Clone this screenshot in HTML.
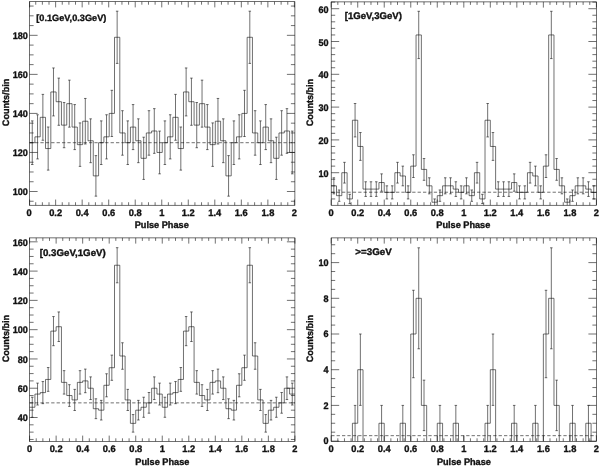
<!DOCTYPE html>
<html lang="en"><head><meta charset="utf-8"><title>Pulse phase histograms</title>
<style>
html,body{margin:0;padding:0;background:#fff;}
body{width:600px;height:467px;overflow:hidden;}
svg{display:block;}
.txt text{font-family:"Liberation Sans",Arial,Helvetica,sans-serif;font-weight:bold;font-size:9.5px;text-rendering:geometricPrecision;fill:#111;stroke:#111;stroke-width:0.35px;}
.txt text.ttl{font-size:9.6px;}
.txt text.t1{font-size:9.2px;}
.txt text.ax{font-size:9.4px;}
.txt text.yl{font-size:9.5px;}
</style></head><body>
<svg width="600" height="467" viewBox="0 0 600 467">
<rect x="0" y="0" width="600" height="467" fill="#fff"/>
<g class="panel" stroke="#111" stroke-width="0.6" fill="none">
<rect x="29.6" y="1.7" width="265.3" height="203.55"/>
<line x1="29.6" y1="205.25" x2="29.6" y2="199.55"/>
<line x1="29.6" y1="1.7" x2="29.6" y2="7.4"/>
<line x1="35.73" y1="205.25" x2="35.73" y2="202.25"/>
<line x1="35.73" y1="1.7" x2="35.73" y2="4.7"/>
<line x1="42.37" y1="205.25" x2="42.37" y2="202.25"/>
<line x1="42.37" y1="1.7" x2="42.37" y2="4.7"/>
<line x1="49" y1="205.25" x2="49" y2="202.25"/>
<line x1="49" y1="1.7" x2="49" y2="4.7"/>
<line x1="55.63" y1="205.25" x2="55.63" y2="199.55"/>
<line x1="55.63" y1="1.7" x2="55.63" y2="7.4"/>
<line x1="62.26" y1="205.25" x2="62.26" y2="202.25"/>
<line x1="62.26" y1="1.7" x2="62.26" y2="4.7"/>
<line x1="68.9" y1="205.25" x2="68.9" y2="202.25"/>
<line x1="68.9" y1="1.7" x2="68.9" y2="4.7"/>
<line x1="75.53" y1="205.25" x2="75.53" y2="202.25"/>
<line x1="75.53" y1="1.7" x2="75.53" y2="4.7"/>
<line x1="82.16" y1="205.25" x2="82.16" y2="199.55"/>
<line x1="82.16" y1="1.7" x2="82.16" y2="7.4"/>
<line x1="88.79" y1="205.25" x2="88.79" y2="202.25"/>
<line x1="88.79" y1="1.7" x2="88.79" y2="4.7"/>
<line x1="95.42" y1="205.25" x2="95.42" y2="202.25"/>
<line x1="95.42" y1="1.7" x2="95.42" y2="4.7"/>
<line x1="102.06" y1="205.25" x2="102.06" y2="202.25"/>
<line x1="102.06" y1="1.7" x2="102.06" y2="4.7"/>
<line x1="108.69" y1="205.25" x2="108.69" y2="199.55"/>
<line x1="108.69" y1="1.7" x2="108.69" y2="7.4"/>
<line x1="115.32" y1="205.25" x2="115.32" y2="202.25"/>
<line x1="115.32" y1="1.7" x2="115.32" y2="4.7"/>
<line x1="121.95" y1="205.25" x2="121.95" y2="202.25"/>
<line x1="121.95" y1="1.7" x2="121.95" y2="4.7"/>
<line x1="128.59" y1="205.25" x2="128.59" y2="202.25"/>
<line x1="128.59" y1="1.7" x2="128.59" y2="4.7"/>
<line x1="135.22" y1="205.25" x2="135.22" y2="199.55"/>
<line x1="135.22" y1="1.7" x2="135.22" y2="7.4"/>
<line x1="141.85" y1="205.25" x2="141.85" y2="202.25"/>
<line x1="141.85" y1="1.7" x2="141.85" y2="4.7"/>
<line x1="148.48" y1="205.25" x2="148.48" y2="202.25"/>
<line x1="148.48" y1="1.7" x2="148.48" y2="4.7"/>
<line x1="155.12" y1="205.25" x2="155.12" y2="202.25"/>
<line x1="155.12" y1="1.7" x2="155.12" y2="4.7"/>
<line x1="161.75" y1="205.25" x2="161.75" y2="199.55"/>
<line x1="161.75" y1="1.7" x2="161.75" y2="7.4"/>
<line x1="168.38" y1="205.25" x2="168.38" y2="202.25"/>
<line x1="168.38" y1="1.7" x2="168.38" y2="4.7"/>
<line x1="175.01" y1="205.25" x2="175.01" y2="202.25"/>
<line x1="175.01" y1="1.7" x2="175.01" y2="4.7"/>
<line x1="181.65" y1="205.25" x2="181.65" y2="202.25"/>
<line x1="181.65" y1="1.7" x2="181.65" y2="4.7"/>
<line x1="188.28" y1="205.25" x2="188.28" y2="199.55"/>
<line x1="188.28" y1="1.7" x2="188.28" y2="7.4"/>
<line x1="194.91" y1="205.25" x2="194.91" y2="202.25"/>
<line x1="194.91" y1="1.7" x2="194.91" y2="4.7"/>
<line x1="201.54" y1="205.25" x2="201.54" y2="202.25"/>
<line x1="201.54" y1="1.7" x2="201.54" y2="4.7"/>
<line x1="208.18" y1="205.25" x2="208.18" y2="202.25"/>
<line x1="208.18" y1="1.7" x2="208.18" y2="4.7"/>
<line x1="214.81" y1="205.25" x2="214.81" y2="199.55"/>
<line x1="214.81" y1="1.7" x2="214.81" y2="7.4"/>
<line x1="221.44" y1="205.25" x2="221.44" y2="202.25"/>
<line x1="221.44" y1="1.7" x2="221.44" y2="4.7"/>
<line x1="228.07" y1="205.25" x2="228.07" y2="202.25"/>
<line x1="228.07" y1="1.7" x2="228.07" y2="4.7"/>
<line x1="234.71" y1="205.25" x2="234.71" y2="202.25"/>
<line x1="234.71" y1="1.7" x2="234.71" y2="4.7"/>
<line x1="241.34" y1="205.25" x2="241.34" y2="199.55"/>
<line x1="241.34" y1="1.7" x2="241.34" y2="7.4"/>
<line x1="247.97" y1="205.25" x2="247.97" y2="202.25"/>
<line x1="247.97" y1="1.7" x2="247.97" y2="4.7"/>
<line x1="254.6" y1="205.25" x2="254.6" y2="202.25"/>
<line x1="254.6" y1="1.7" x2="254.6" y2="4.7"/>
<line x1="261.24" y1="205.25" x2="261.24" y2="202.25"/>
<line x1="261.24" y1="1.7" x2="261.24" y2="4.7"/>
<line x1="267.87" y1="205.25" x2="267.87" y2="199.55"/>
<line x1="267.87" y1="1.7" x2="267.87" y2="7.4"/>
<line x1="274.5" y1="205.25" x2="274.5" y2="202.25"/>
<line x1="274.5" y1="1.7" x2="274.5" y2="4.7"/>
<line x1="281.13" y1="205.25" x2="281.13" y2="202.25"/>
<line x1="281.13" y1="1.7" x2="281.13" y2="4.7"/>
<line x1="287.77" y1="205.25" x2="287.77" y2="202.25"/>
<line x1="287.77" y1="1.7" x2="287.77" y2="4.7"/>
<line x1="294.4" y1="205.25" x2="294.4" y2="199.55"/>
<line x1="294.4" y1="1.7" x2="294.4" y2="7.4"/>
<line x1="29.6" y1="201.26" x2="33.6" y2="201.26"/>
<line x1="294.9" y1="201.26" x2="290.9" y2="201.26"/>
<line x1="29.6" y1="191.5" x2="37.6" y2="191.5"/>
<line x1="294.9" y1="191.5" x2="286.9" y2="191.5"/>
<line x1="29.6" y1="181.74" x2="33.6" y2="181.74"/>
<line x1="294.9" y1="181.74" x2="290.9" y2="181.74"/>
<line x1="29.6" y1="171.98" x2="33.6" y2="171.98"/>
<line x1="294.9" y1="171.98" x2="290.9" y2="171.98"/>
<line x1="29.6" y1="162.22" x2="33.6" y2="162.22"/>
<line x1="294.9" y1="162.22" x2="290.9" y2="162.22"/>
<line x1="29.6" y1="152.46" x2="37.6" y2="152.46"/>
<line x1="294.9" y1="152.46" x2="286.9" y2="152.46"/>
<line x1="29.6" y1="142.7" x2="33.6" y2="142.7"/>
<line x1="294.9" y1="142.7" x2="290.9" y2="142.7"/>
<line x1="29.6" y1="132.94" x2="33.6" y2="132.94"/>
<line x1="294.9" y1="132.94" x2="290.9" y2="132.94"/>
<line x1="29.6" y1="123.18" x2="33.6" y2="123.18"/>
<line x1="294.9" y1="123.18" x2="290.9" y2="123.18"/>
<line x1="29.6" y1="113.42" x2="37.6" y2="113.42"/>
<line x1="294.9" y1="113.42" x2="286.9" y2="113.42"/>
<line x1="29.6" y1="103.66" x2="33.6" y2="103.66"/>
<line x1="294.9" y1="103.66" x2="290.9" y2="103.66"/>
<line x1="29.6" y1="93.9" x2="33.6" y2="93.9"/>
<line x1="294.9" y1="93.9" x2="290.9" y2="93.9"/>
<line x1="29.6" y1="84.14" x2="33.6" y2="84.14"/>
<line x1="294.9" y1="84.14" x2="290.9" y2="84.14"/>
<line x1="29.6" y1="74.38" x2="37.6" y2="74.38"/>
<line x1="294.9" y1="74.38" x2="286.9" y2="74.38"/>
<line x1="29.6" y1="64.62" x2="33.6" y2="64.62"/>
<line x1="294.9" y1="64.62" x2="290.9" y2="64.62"/>
<line x1="29.6" y1="54.86" x2="33.6" y2="54.86"/>
<line x1="294.9" y1="54.86" x2="290.9" y2="54.86"/>
<line x1="29.6" y1="45.1" x2="33.6" y2="45.1"/>
<line x1="294.9" y1="45.1" x2="290.9" y2="45.1"/>
<line x1="29.6" y1="35.34" x2="37.6" y2="35.34"/>
<line x1="294.9" y1="35.34" x2="286.9" y2="35.34"/>
<line x1="29.6" y1="25.58" x2="33.6" y2="25.58"/>
<line x1="294.9" y1="25.58" x2="290.9" y2="25.58"/>
<line x1="29.6" y1="15.82" x2="33.6" y2="15.82"/>
<line x1="294.9" y1="15.82" x2="290.9" y2="15.82"/>
<line x1="29.6" y1="6.06" x2="33.6" y2="6.06"/>
<line x1="294.9" y1="6.06" x2="290.9" y2="6.06"/>
<line x1="29.6" y1="142.7" x2="294.9" y2="142.7" stroke-dasharray="3.3 2.1"/>
<path d="M29.6 142.7H34.91V136.84H40.21V117.32H45.52V148.56H50.82V91.95H56.13V101.71H61.44V125.13H66.74V103.66H72.05V127.08H77.35V144.65H82.66V121.23H87.97V140.75H93.27V175.88H98.58V142.7H103.88V136.84H109.19V113.42H114.5V37.29H119.8V132.94H125.11V142.7H130.41V127.08H135.72V140.75H141.03V158.32H146.33V132.94H151.64V130.99H156.94V152.46H162.25V142.7H167.56V136.84H172.86V117.32H178.17V148.56H183.47V91.95H188.78V101.71H194.09V125.13H199.39V103.66H204.7V127.08H210V144.65H215.31V121.23H220.62V140.75H225.92V175.88H231.23V142.7H236.53V136.84H241.84V113.42H247.15V37.29H252.45V132.94H257.76V142.7H263.06V127.08H268.37V140.75H273.68V158.32H278.98V132.94H284.29V130.99H289.59V152.46H294.9"/>
<path d="M32.25 120.88V164.52M31 120.88h2.5M31 164.52h2.5M37.56 114.76V158.93M36.31 114.76h2.5M36.31 158.93h2.5M42.86 94.39V140.25M41.61 94.39h2.5M41.61 140.25h2.5M48.17 127V170.12M46.92 127h2.5M46.92 170.12h2.5M53.48 67.96V115.93M52.23 67.96h2.5M52.23 115.93h2.5M58.78 78.12V125.29M57.53 78.12h2.5M57.53 125.29h2.5M64.09 102.54V147.73M62.84 102.54h2.5M62.84 147.73h2.5M69.39 80.15V127.17M68.14 80.15h2.5M68.14 127.17h2.5M74.7 104.57V149.6M73.45 104.57h2.5M73.45 149.6h2.5M80.01 122.92V166.39M78.76 122.92h2.5M78.76 166.39h2.5M85.31 98.46V143.99M84.06 98.46h2.5M84.06 143.99h2.5M90.62 118.84V162.66M89.37 118.84h2.5M89.37 162.66h2.5M95.92 155.6V196.17M94.67 155.6h2.5M94.67 196.17h2.5M101.23 120.88V164.52M99.98 120.88h2.5M99.98 164.52h2.5M106.54 114.76V158.93M105.29 114.76h2.5M105.29 158.93h2.5M111.84 90.32V136.52M110.59 90.32h2.5M110.59 136.52h2.5M117.15 11.18V63.41M115.9 11.18h2.5M115.9 63.41h2.5M122.45 110.68V155.2M121.2 110.68h2.5M121.2 155.2h2.5M127.76 120.88V164.52M126.51 120.88h2.5M126.51 164.52h2.5M133.07 104.57V149.6M131.82 104.57h2.5M131.82 149.6h2.5M138.37 118.84V162.66M137.12 118.84h2.5M137.12 162.66h2.5M143.68 137.2V179.43M142.43 137.2h2.5M142.43 179.43h2.5M148.98 110.68V155.2M147.73 110.68h2.5M147.73 155.2h2.5M154.29 108.65V153.33M153.04 108.65h2.5M153.04 153.33h2.5M159.6 131.08V173.84M158.35 131.08h2.5M158.35 173.84h2.5M164.9 120.88V164.52M163.65 120.88h2.5M163.65 164.52h2.5M170.21 114.76V158.93M168.96 114.76h2.5M168.96 158.93h2.5M175.51 94.39V140.25M174.26 94.39h2.5M174.26 140.25h2.5M180.82 127V170.12M179.57 127h2.5M179.57 170.12h2.5M186.13 67.96V115.93M184.88 67.96h2.5M184.88 115.93h2.5M191.43 78.12V125.29M190.18 78.12h2.5M190.18 125.29h2.5M196.74 102.54V147.73M195.49 102.54h2.5M195.49 147.73h2.5M202.04 80.15V127.17M200.79 80.15h2.5M200.79 127.17h2.5M207.35 104.57V149.6M206.1 104.57h2.5M206.1 149.6h2.5M212.66 122.92V166.39M211.41 122.92h2.5M211.41 166.39h2.5M217.96 98.46V143.99M216.71 98.46h2.5M216.71 143.99h2.5M223.27 118.84V162.66M222.02 118.84h2.5M222.02 162.66h2.5M228.57 155.6V196.17M227.32 155.6h2.5M227.32 196.17h2.5M233.88 120.88V164.52M232.63 120.88h2.5M232.63 164.52h2.5M239.19 114.76V158.93M237.94 114.76h2.5M237.94 158.93h2.5M244.49 90.32V136.52M243.24 90.32h2.5M243.24 136.52h2.5M249.8 11.18V63.41M248.55 11.18h2.5M248.55 63.41h2.5M255.1 110.68V155.2M253.85 110.68h2.5M253.85 155.2h2.5M260.41 120.88V164.52M259.16 120.88h2.5M259.16 164.52h2.5M265.72 104.57V149.6M264.47 104.57h2.5M264.47 149.6h2.5M271.02 118.84V162.66M269.77 118.84h2.5M269.77 162.66h2.5M276.33 137.2V179.43M275.08 137.2h2.5M275.08 179.43h2.5M281.63 110.68V155.2M280.38 110.68h2.5M280.38 155.2h2.5M286.94 108.65V153.33M285.69 108.65h2.5M285.69 153.33h2.5M292.25 131.08V173.84M291 131.08h2.5M291 173.84h2.5"/>
</g>
<g class="txt">
<text x="29.1" y="215.85" text-anchor="middle" textLength="5.18" lengthAdjust="spacingAndGlyphs">0</text>
<text x="55.63" y="215.85" text-anchor="middle" textLength="12.94" lengthAdjust="spacingAndGlyphs">0.2</text>
<text x="82.16" y="215.85" text-anchor="middle" textLength="12.94" lengthAdjust="spacingAndGlyphs">0.4</text>
<text x="108.69" y="215.85" text-anchor="middle" textLength="12.94" lengthAdjust="spacingAndGlyphs">0.6</text>
<text x="135.22" y="215.85" text-anchor="middle" textLength="12.94" lengthAdjust="spacingAndGlyphs">0.8</text>
<text x="161.75" y="215.85" text-anchor="middle" textLength="5.18" lengthAdjust="spacingAndGlyphs">1</text>
<text x="188.28" y="215.85" text-anchor="middle" textLength="12.94" lengthAdjust="spacingAndGlyphs">1.2</text>
<text x="214.81" y="215.85" text-anchor="middle" textLength="12.94" lengthAdjust="spacingAndGlyphs">1.4</text>
<text x="241.34" y="215.85" text-anchor="middle" textLength="12.94" lengthAdjust="spacingAndGlyphs">1.6</text>
<text x="267.87" y="215.85" text-anchor="middle" textLength="12.94" lengthAdjust="spacingAndGlyphs">1.8</text>
<text x="294.4" y="215.85" text-anchor="middle" textLength="5.18" lengthAdjust="spacingAndGlyphs">2</text>
<text x="27.9" y="195.25" class="yl" text-anchor="end" textLength="15.13" lengthAdjust="spacingAndGlyphs">100</text>
<text x="27.9" y="156.21" class="yl" text-anchor="end" textLength="15.13" lengthAdjust="spacingAndGlyphs">120</text>
<text x="27.9" y="117.17" class="yl" text-anchor="end" textLength="15.13" lengthAdjust="spacingAndGlyphs">140</text>
<text x="27.9" y="78.13" class="yl" text-anchor="end" textLength="15.13" lengthAdjust="spacingAndGlyphs">160</text>
<text x="27.9" y="39.09" class="yl" text-anchor="end" textLength="15.13" lengthAdjust="spacingAndGlyphs">180</text>
<text class="ttl t1" x="36.3" y="20.8" textLength="70" lengthAdjust="spacingAndGlyphs">[0.1GeV,0.3GeV)</text>
<text class="ax" x="161.75" y="227.75" text-anchor="middle" textLength="54" lengthAdjust="spacingAndGlyphs">Pulse Phase</text>
<text class="ax" transform="translate(8.8 102.47) rotate(-90)" text-anchor="middle" textLength="47.4" lengthAdjust="spacingAndGlyphs">Counts/bin</text>
</g>
<g class="panel" stroke="#111" stroke-width="0.6" fill="none">
<rect x="331.2" y="1.9" width="265.2" height="203.35"/>
<line x1="331.2" y1="205.25" x2="331.2" y2="199.55"/>
<line x1="331.2" y1="1.9" x2="331.2" y2="7.6"/>
<line x1="337.83" y1="205.25" x2="337.83" y2="202.25"/>
<line x1="337.83" y1="1.9" x2="337.83" y2="4.9"/>
<line x1="344.46" y1="205.25" x2="344.46" y2="202.25"/>
<line x1="344.46" y1="1.9" x2="344.46" y2="4.9"/>
<line x1="351.09" y1="205.25" x2="351.09" y2="202.25"/>
<line x1="351.09" y1="1.9" x2="351.09" y2="4.9"/>
<line x1="357.72" y1="205.25" x2="357.72" y2="199.55"/>
<line x1="357.72" y1="1.9" x2="357.72" y2="7.6"/>
<line x1="364.35" y1="205.25" x2="364.35" y2="202.25"/>
<line x1="364.35" y1="1.9" x2="364.35" y2="4.9"/>
<line x1="370.98" y1="205.25" x2="370.98" y2="202.25"/>
<line x1="370.98" y1="1.9" x2="370.98" y2="4.9"/>
<line x1="377.61" y1="205.25" x2="377.61" y2="202.25"/>
<line x1="377.61" y1="1.9" x2="377.61" y2="4.9"/>
<line x1="384.24" y1="205.25" x2="384.24" y2="199.55"/>
<line x1="384.24" y1="1.9" x2="384.24" y2="7.6"/>
<line x1="390.87" y1="205.25" x2="390.87" y2="202.25"/>
<line x1="390.87" y1="1.9" x2="390.87" y2="4.9"/>
<line x1="397.5" y1="205.25" x2="397.5" y2="202.25"/>
<line x1="397.5" y1="1.9" x2="397.5" y2="4.9"/>
<line x1="404.13" y1="205.25" x2="404.13" y2="202.25"/>
<line x1="404.13" y1="1.9" x2="404.13" y2="4.9"/>
<line x1="410.76" y1="205.25" x2="410.76" y2="199.55"/>
<line x1="410.76" y1="1.9" x2="410.76" y2="7.6"/>
<line x1="417.39" y1="205.25" x2="417.39" y2="202.25"/>
<line x1="417.39" y1="1.9" x2="417.39" y2="4.9"/>
<line x1="424.02" y1="205.25" x2="424.02" y2="202.25"/>
<line x1="424.02" y1="1.9" x2="424.02" y2="4.9"/>
<line x1="430.65" y1="205.25" x2="430.65" y2="202.25"/>
<line x1="430.65" y1="1.9" x2="430.65" y2="4.9"/>
<line x1="437.28" y1="205.25" x2="437.28" y2="199.55"/>
<line x1="437.28" y1="1.9" x2="437.28" y2="7.6"/>
<line x1="443.91" y1="205.25" x2="443.91" y2="202.25"/>
<line x1="443.91" y1="1.9" x2="443.91" y2="4.9"/>
<line x1="450.54" y1="205.25" x2="450.54" y2="202.25"/>
<line x1="450.54" y1="1.9" x2="450.54" y2="4.9"/>
<line x1="457.17" y1="205.25" x2="457.17" y2="202.25"/>
<line x1="457.17" y1="1.9" x2="457.17" y2="4.9"/>
<line x1="463.8" y1="205.25" x2="463.8" y2="199.55"/>
<line x1="463.8" y1="1.9" x2="463.8" y2="7.6"/>
<line x1="470.43" y1="205.25" x2="470.43" y2="202.25"/>
<line x1="470.43" y1="1.9" x2="470.43" y2="4.9"/>
<line x1="477.06" y1="205.25" x2="477.06" y2="202.25"/>
<line x1="477.06" y1="1.9" x2="477.06" y2="4.9"/>
<line x1="483.69" y1="205.25" x2="483.69" y2="202.25"/>
<line x1="483.69" y1="1.9" x2="483.69" y2="4.9"/>
<line x1="490.32" y1="205.25" x2="490.32" y2="199.55"/>
<line x1="490.32" y1="1.9" x2="490.32" y2="7.6"/>
<line x1="496.95" y1="205.25" x2="496.95" y2="202.25"/>
<line x1="496.95" y1="1.9" x2="496.95" y2="4.9"/>
<line x1="503.58" y1="205.25" x2="503.58" y2="202.25"/>
<line x1="503.58" y1="1.9" x2="503.58" y2="4.9"/>
<line x1="510.21" y1="205.25" x2="510.21" y2="202.25"/>
<line x1="510.21" y1="1.9" x2="510.21" y2="4.9"/>
<line x1="516.84" y1="205.25" x2="516.84" y2="199.55"/>
<line x1="516.84" y1="1.9" x2="516.84" y2="7.6"/>
<line x1="523.47" y1="205.25" x2="523.47" y2="202.25"/>
<line x1="523.47" y1="1.9" x2="523.47" y2="4.9"/>
<line x1="530.1" y1="205.25" x2="530.1" y2="202.25"/>
<line x1="530.1" y1="1.9" x2="530.1" y2="4.9"/>
<line x1="536.73" y1="205.25" x2="536.73" y2="202.25"/>
<line x1="536.73" y1="1.9" x2="536.73" y2="4.9"/>
<line x1="543.36" y1="205.25" x2="543.36" y2="199.55"/>
<line x1="543.36" y1="1.9" x2="543.36" y2="7.6"/>
<line x1="549.99" y1="205.25" x2="549.99" y2="202.25"/>
<line x1="549.99" y1="1.9" x2="549.99" y2="4.9"/>
<line x1="556.62" y1="205.25" x2="556.62" y2="202.25"/>
<line x1="556.62" y1="1.9" x2="556.62" y2="4.9"/>
<line x1="563.25" y1="205.25" x2="563.25" y2="202.25"/>
<line x1="563.25" y1="1.9" x2="563.25" y2="4.9"/>
<line x1="569.88" y1="205.25" x2="569.88" y2="199.55"/>
<line x1="569.88" y1="1.9" x2="569.88" y2="7.6"/>
<line x1="576.51" y1="205.25" x2="576.51" y2="202.25"/>
<line x1="576.51" y1="1.9" x2="576.51" y2="4.9"/>
<line x1="583.14" y1="205.25" x2="583.14" y2="202.25"/>
<line x1="583.14" y1="1.9" x2="583.14" y2="4.9"/>
<line x1="589.77" y1="205.25" x2="589.77" y2="202.25"/>
<line x1="589.77" y1="1.9" x2="589.77" y2="4.9"/>
<line x1="596.4" y1="205.25" x2="596.4" y2="199.55"/>
<line x1="596.4" y1="1.9" x2="596.4" y2="7.6"/>
<line x1="331.2" y1="198.94" x2="335.2" y2="198.94"/>
<line x1="596.4" y1="198.94" x2="592.4" y2="198.94"/>
<line x1="331.2" y1="192.38" x2="335.2" y2="192.38"/>
<line x1="596.4" y1="192.38" x2="592.4" y2="192.38"/>
<line x1="331.2" y1="185.82" x2="335.2" y2="185.82"/>
<line x1="596.4" y1="185.82" x2="592.4" y2="185.82"/>
<line x1="331.2" y1="179.26" x2="335.2" y2="179.26"/>
<line x1="596.4" y1="179.26" x2="592.4" y2="179.26"/>
<line x1="331.2" y1="172.7" x2="339.2" y2="172.7"/>
<line x1="596.4" y1="172.7" x2="588.4" y2="172.7"/>
<line x1="331.2" y1="166.14" x2="335.2" y2="166.14"/>
<line x1="596.4" y1="166.14" x2="592.4" y2="166.14"/>
<line x1="331.2" y1="159.58" x2="335.2" y2="159.58"/>
<line x1="596.4" y1="159.58" x2="592.4" y2="159.58"/>
<line x1="331.2" y1="153.02" x2="335.2" y2="153.02"/>
<line x1="596.4" y1="153.02" x2="592.4" y2="153.02"/>
<line x1="331.2" y1="146.46" x2="335.2" y2="146.46"/>
<line x1="596.4" y1="146.46" x2="592.4" y2="146.46"/>
<line x1="331.2" y1="139.9" x2="339.2" y2="139.9"/>
<line x1="596.4" y1="139.9" x2="588.4" y2="139.9"/>
<line x1="331.2" y1="133.34" x2="335.2" y2="133.34"/>
<line x1="596.4" y1="133.34" x2="592.4" y2="133.34"/>
<line x1="331.2" y1="126.78" x2="335.2" y2="126.78"/>
<line x1="596.4" y1="126.78" x2="592.4" y2="126.78"/>
<line x1="331.2" y1="120.22" x2="335.2" y2="120.22"/>
<line x1="596.4" y1="120.22" x2="592.4" y2="120.22"/>
<line x1="331.2" y1="113.66" x2="335.2" y2="113.66"/>
<line x1="596.4" y1="113.66" x2="592.4" y2="113.66"/>
<line x1="331.2" y1="107.1" x2="339.2" y2="107.1"/>
<line x1="596.4" y1="107.1" x2="588.4" y2="107.1"/>
<line x1="331.2" y1="100.54" x2="335.2" y2="100.54"/>
<line x1="596.4" y1="100.54" x2="592.4" y2="100.54"/>
<line x1="331.2" y1="93.98" x2="335.2" y2="93.98"/>
<line x1="596.4" y1="93.98" x2="592.4" y2="93.98"/>
<line x1="331.2" y1="87.42" x2="335.2" y2="87.42"/>
<line x1="596.4" y1="87.42" x2="592.4" y2="87.42"/>
<line x1="331.2" y1="80.86" x2="335.2" y2="80.86"/>
<line x1="596.4" y1="80.86" x2="592.4" y2="80.86"/>
<line x1="331.2" y1="74.3" x2="339.2" y2="74.3"/>
<line x1="596.4" y1="74.3" x2="588.4" y2="74.3"/>
<line x1="331.2" y1="67.74" x2="335.2" y2="67.74"/>
<line x1="596.4" y1="67.74" x2="592.4" y2="67.74"/>
<line x1="331.2" y1="61.18" x2="335.2" y2="61.18"/>
<line x1="596.4" y1="61.18" x2="592.4" y2="61.18"/>
<line x1="331.2" y1="54.62" x2="335.2" y2="54.62"/>
<line x1="596.4" y1="54.62" x2="592.4" y2="54.62"/>
<line x1="331.2" y1="48.06" x2="335.2" y2="48.06"/>
<line x1="596.4" y1="48.06" x2="592.4" y2="48.06"/>
<line x1="331.2" y1="41.5" x2="339.2" y2="41.5"/>
<line x1="596.4" y1="41.5" x2="588.4" y2="41.5"/>
<line x1="331.2" y1="34.94" x2="335.2" y2="34.94"/>
<line x1="596.4" y1="34.94" x2="592.4" y2="34.94"/>
<line x1="331.2" y1="28.38" x2="335.2" y2="28.38"/>
<line x1="596.4" y1="28.38" x2="592.4" y2="28.38"/>
<line x1="331.2" y1="21.82" x2="335.2" y2="21.82"/>
<line x1="596.4" y1="21.82" x2="592.4" y2="21.82"/>
<line x1="331.2" y1="15.26" x2="335.2" y2="15.26"/>
<line x1="596.4" y1="15.26" x2="592.4" y2="15.26"/>
<line x1="331.2" y1="8.7" x2="339.2" y2="8.7"/>
<line x1="596.4" y1="8.7" x2="588.4" y2="8.7"/>
<line x1="331.2" y1="2.14" x2="335.2" y2="2.14"/>
<line x1="596.4" y1="2.14" x2="592.4" y2="2.14"/>
<line x1="331.2" y1="192.22" x2="596.4" y2="192.22" stroke-dasharray="3.3 2.1"/>
<path d="M331.2 185.82H336.5V195.66H341.81V172.7H347.11V198.94H352.42V120.22H357.72V146.46H363.02V189.1H368.33V189.1H373.63V189.1H378.94V182.54H384.24V192.38H389.54V192.38H394.85V172.7H400.15V175.98H405.46V192.38H410.76V166.14H416.06V34.94H421.37V169.42H426.67V185.82H431.98V202.22H437.28V195.66H442.58V185.82H447.89V185.82H453.19V189.1H458.5V192.38H463.8V185.82H469.1V195.66H474.41V172.7H479.71V198.94H485.02V120.22H490.32V146.46H495.62V189.1H500.93V189.1H506.23V189.1H511.54V182.54H516.84V192.38H522.14V192.38H527.45V172.7H532.75V175.98H538.06V192.38H543.36V166.14H548.66V34.94H553.97V169.42H559.27V185.82H564.58V202.22H569.88V195.66H575.18V185.82H580.49V185.82H585.79V189.1H591.1V192.38H596.4"/>
<path d="M333.85 177.79V193.85M332.6 177.79h2.5M332.6 193.85h2.5M339.16 189.98V201.34M337.91 189.98h2.5M337.91 201.34h2.5M344.46 162.33V183.07M343.21 162.33h2.5M343.21 183.07h2.5M349.76 194.3V203.58M348.51 194.3h2.5M348.51 203.58h2.5M355.07 103.5V136.94M353.82 103.5h2.5M353.82 136.94h2.5M360.37 132.54V160.38M359.12 132.54h2.5M359.12 160.38h2.5M365.68 181.77V196.43M364.43 181.77h2.5M364.43 196.43h2.5M370.98 181.77V196.43M369.73 181.77h2.5M369.73 196.43h2.5M376.28 181.77V196.43M375.03 181.77h2.5M375.03 196.43h2.5M381.59 173.86V191.22M380.34 173.86h2.5M380.34 191.22h2.5M386.89 185.82V198.94M385.64 185.82h2.5M385.64 198.94h2.5M392.2 185.82V198.94M390.95 185.82h2.5M390.95 198.94h2.5M397.5 162.33V183.07M396.25 162.33h2.5M396.25 183.07h2.5M402.8 166.14V185.82M401.55 166.14h2.5M401.55 185.82h2.5M408.11 185.82V198.94M406.86 185.82h2.5M406.86 198.94h2.5M413.41 154.78V177.5M412.16 154.78h2.5M412.16 177.5h2.5M418.72 11.29V58.59M417.47 11.29h2.5M417.47 58.59h2.5M424.02 158.54V180.3M422.77 158.54h2.5M422.77 180.3h2.5M429.32 177.79V193.85M428.07 177.79h2.5M428.07 193.85h2.5M434.63 198.94V205.25M433.38 198.94h2.5M439.93 189.98V201.34M438.68 189.98h2.5M438.68 201.34h2.5M445.24 177.79V193.85M443.99 177.79h2.5M443.99 193.85h2.5M450.54 177.79V193.85M449.29 177.79h2.5M449.29 193.85h2.5M455.84 181.77V196.43M454.59 181.77h2.5M454.59 196.43h2.5M461.15 185.82V198.94M459.9 185.82h2.5M459.9 198.94h2.5M466.45 177.79V193.85M465.2 177.79h2.5M465.2 193.85h2.5M471.76 189.98V201.34M470.51 189.98h2.5M470.51 201.34h2.5M477.06 162.33V183.07M475.81 162.33h2.5M475.81 183.07h2.5M482.36 194.3V203.58M481.11 194.3h2.5M481.11 203.58h2.5M487.67 103.5V136.94M486.42 103.5h2.5M486.42 136.94h2.5M492.97 132.54V160.38M491.72 132.54h2.5M491.72 160.38h2.5M498.28 181.77V196.43M497.03 181.77h2.5M497.03 196.43h2.5M503.58 181.77V196.43M502.33 181.77h2.5M502.33 196.43h2.5M508.88 181.77V196.43M507.63 181.77h2.5M507.63 196.43h2.5M514.19 173.86V191.22M512.94 173.86h2.5M512.94 191.22h2.5M519.49 185.82V198.94M518.24 185.82h2.5M518.24 198.94h2.5M524.8 185.82V198.94M523.55 185.82h2.5M523.55 198.94h2.5M530.1 162.33V183.07M528.85 162.33h2.5M528.85 183.07h2.5M535.4 166.14V185.82M534.15 166.14h2.5M534.15 185.82h2.5M540.71 185.82V198.94M539.46 185.82h2.5M539.46 198.94h2.5M546.01 154.78V177.5M544.76 154.78h2.5M544.76 177.5h2.5M551.32 11.29V58.59M550.07 11.29h2.5M550.07 58.59h2.5M556.62 158.54V180.3M555.37 158.54h2.5M555.37 180.3h2.5M561.92 177.79V193.85M560.67 177.79h2.5M560.67 193.85h2.5M567.23 198.94V205.25M565.98 198.94h2.5M572.53 189.98V201.34M571.28 189.98h2.5M571.28 201.34h2.5M577.84 177.79V193.85M576.59 177.79h2.5M576.59 193.85h2.5M583.14 177.79V193.85M581.89 177.79h2.5M581.89 193.85h2.5M588.44 181.77V196.43M587.19 181.77h2.5M587.19 196.43h2.5M593.75 185.82V198.94M592.5 185.82h2.5M592.5 198.94h2.5"/>
</g>
<g class="txt">
<text x="331.2" y="215.85" text-anchor="middle" textLength="5.18" lengthAdjust="spacingAndGlyphs">0</text>
<text x="357.72" y="215.85" text-anchor="middle" textLength="12.94" lengthAdjust="spacingAndGlyphs">0.2</text>
<text x="384.24" y="215.85" text-anchor="middle" textLength="12.94" lengthAdjust="spacingAndGlyphs">0.4</text>
<text x="410.76" y="215.85" text-anchor="middle" textLength="12.94" lengthAdjust="spacingAndGlyphs">0.6</text>
<text x="437.28" y="215.85" text-anchor="middle" textLength="12.94" lengthAdjust="spacingAndGlyphs">0.8</text>
<text x="463.8" y="215.85" text-anchor="middle" textLength="5.18" lengthAdjust="spacingAndGlyphs">1</text>
<text x="490.32" y="215.85" text-anchor="middle" textLength="12.94" lengthAdjust="spacingAndGlyphs">1.2</text>
<text x="516.84" y="215.85" text-anchor="middle" textLength="12.94" lengthAdjust="spacingAndGlyphs">1.4</text>
<text x="543.36" y="215.85" text-anchor="middle" textLength="12.94" lengthAdjust="spacingAndGlyphs">1.6</text>
<text x="569.88" y="215.85" text-anchor="middle" textLength="12.94" lengthAdjust="spacingAndGlyphs">1.8</text>
<text x="596.4" y="215.85" text-anchor="middle" textLength="5.18" lengthAdjust="spacingAndGlyphs">2</text>
<text x="328.5" y="176.7" class="yl" text-anchor="end" textLength="10.09" lengthAdjust="spacingAndGlyphs">10</text>
<text x="328.5" y="143.9" class="yl" text-anchor="end" textLength="10.09" lengthAdjust="spacingAndGlyphs">20</text>
<text x="328.5" y="111.1" class="yl" text-anchor="end" textLength="10.09" lengthAdjust="spacingAndGlyphs">30</text>
<text x="328.5" y="78.3" class="yl" text-anchor="end" textLength="10.09" lengthAdjust="spacingAndGlyphs">40</text>
<text x="328.5" y="45.5" class="yl" text-anchor="end" textLength="10.09" lengthAdjust="spacingAndGlyphs">50</text>
<text x="328.5" y="12.7" class="yl" text-anchor="end" textLength="10.09" lengthAdjust="spacingAndGlyphs">60</text>
<text class="ttl" x="344.7" y="18.8" textLength="57.3" lengthAdjust="spacingAndGlyphs">[1GeV,3GeV)</text>
<text class="ax" x="463.3" y="228.25" text-anchor="middle" textLength="54" lengthAdjust="spacingAndGlyphs">Pulse Phase</text>
<text class="ax" transform="translate(312.8 102.58) rotate(-90)" text-anchor="middle" textLength="47.4" lengthAdjust="spacingAndGlyphs">Counts/bin</text>
</g>
<g class="panel" stroke="#111" stroke-width="0.6" fill="none">
<rect x="29.6" y="237.9" width="265.3" height="203.4"/>
<line x1="29.6" y1="441.3" x2="29.6" y2="435.6"/>
<line x1="29.6" y1="237.9" x2="29.6" y2="243.6"/>
<line x1="36.23" y1="441.3" x2="36.23" y2="438.3"/>
<line x1="36.23" y1="237.9" x2="36.23" y2="240.9"/>
<line x1="42.87" y1="441.3" x2="42.87" y2="438.3"/>
<line x1="42.87" y1="237.9" x2="42.87" y2="240.9"/>
<line x1="49.5" y1="441.3" x2="49.5" y2="438.3"/>
<line x1="49.5" y1="237.9" x2="49.5" y2="240.9"/>
<line x1="56.13" y1="441.3" x2="56.13" y2="435.6"/>
<line x1="56.13" y1="237.9" x2="56.13" y2="243.6"/>
<line x1="62.76" y1="441.3" x2="62.76" y2="438.3"/>
<line x1="62.76" y1="237.9" x2="62.76" y2="240.9"/>
<line x1="69.4" y1="441.3" x2="69.4" y2="438.3"/>
<line x1="69.4" y1="237.9" x2="69.4" y2="240.9"/>
<line x1="76.03" y1="441.3" x2="76.03" y2="438.3"/>
<line x1="76.03" y1="237.9" x2="76.03" y2="240.9"/>
<line x1="82.66" y1="441.3" x2="82.66" y2="435.6"/>
<line x1="82.66" y1="237.9" x2="82.66" y2="243.6"/>
<line x1="89.29" y1="441.3" x2="89.29" y2="438.3"/>
<line x1="89.29" y1="237.9" x2="89.29" y2="240.9"/>
<line x1="95.92" y1="441.3" x2="95.92" y2="438.3"/>
<line x1="95.92" y1="237.9" x2="95.92" y2="240.9"/>
<line x1="102.56" y1="441.3" x2="102.56" y2="438.3"/>
<line x1="102.56" y1="237.9" x2="102.56" y2="240.9"/>
<line x1="109.19" y1="441.3" x2="109.19" y2="435.6"/>
<line x1="109.19" y1="237.9" x2="109.19" y2="243.6"/>
<line x1="115.82" y1="441.3" x2="115.82" y2="438.3"/>
<line x1="115.82" y1="237.9" x2="115.82" y2="240.9"/>
<line x1="122.45" y1="441.3" x2="122.45" y2="438.3"/>
<line x1="122.45" y1="237.9" x2="122.45" y2="240.9"/>
<line x1="129.09" y1="441.3" x2="129.09" y2="438.3"/>
<line x1="129.09" y1="237.9" x2="129.09" y2="240.9"/>
<line x1="135.72" y1="441.3" x2="135.72" y2="435.6"/>
<line x1="135.72" y1="237.9" x2="135.72" y2="243.6"/>
<line x1="142.35" y1="441.3" x2="142.35" y2="438.3"/>
<line x1="142.35" y1="237.9" x2="142.35" y2="240.9"/>
<line x1="148.98" y1="441.3" x2="148.98" y2="438.3"/>
<line x1="148.98" y1="237.9" x2="148.98" y2="240.9"/>
<line x1="155.62" y1="441.3" x2="155.62" y2="438.3"/>
<line x1="155.62" y1="237.9" x2="155.62" y2="240.9"/>
<line x1="162.25" y1="441.3" x2="162.25" y2="435.6"/>
<line x1="162.25" y1="237.9" x2="162.25" y2="243.6"/>
<line x1="168.88" y1="441.3" x2="168.88" y2="438.3"/>
<line x1="168.88" y1="237.9" x2="168.88" y2="240.9"/>
<line x1="175.51" y1="441.3" x2="175.51" y2="438.3"/>
<line x1="175.51" y1="237.9" x2="175.51" y2="240.9"/>
<line x1="182.15" y1="441.3" x2="182.15" y2="438.3"/>
<line x1="182.15" y1="237.9" x2="182.15" y2="240.9"/>
<line x1="188.78" y1="441.3" x2="188.78" y2="435.6"/>
<line x1="188.78" y1="237.9" x2="188.78" y2="243.6"/>
<line x1="195.41" y1="441.3" x2="195.41" y2="438.3"/>
<line x1="195.41" y1="237.9" x2="195.41" y2="240.9"/>
<line x1="202.04" y1="441.3" x2="202.04" y2="438.3"/>
<line x1="202.04" y1="237.9" x2="202.04" y2="240.9"/>
<line x1="208.68" y1="441.3" x2="208.68" y2="438.3"/>
<line x1="208.68" y1="237.9" x2="208.68" y2="240.9"/>
<line x1="215.31" y1="441.3" x2="215.31" y2="435.6"/>
<line x1="215.31" y1="237.9" x2="215.31" y2="243.6"/>
<line x1="221.94" y1="441.3" x2="221.94" y2="438.3"/>
<line x1="221.94" y1="237.9" x2="221.94" y2="240.9"/>
<line x1="228.57" y1="441.3" x2="228.57" y2="438.3"/>
<line x1="228.57" y1="237.9" x2="228.57" y2="240.9"/>
<line x1="235.21" y1="441.3" x2="235.21" y2="438.3"/>
<line x1="235.21" y1="237.9" x2="235.21" y2="240.9"/>
<line x1="241.84" y1="441.3" x2="241.84" y2="435.6"/>
<line x1="241.84" y1="237.9" x2="241.84" y2="243.6"/>
<line x1="248.47" y1="441.3" x2="248.47" y2="438.3"/>
<line x1="248.47" y1="237.9" x2="248.47" y2="240.9"/>
<line x1="255.1" y1="441.3" x2="255.1" y2="438.3"/>
<line x1="255.1" y1="237.9" x2="255.1" y2="240.9"/>
<line x1="261.74" y1="441.3" x2="261.74" y2="438.3"/>
<line x1="261.74" y1="237.9" x2="261.74" y2="240.9"/>
<line x1="268.37" y1="441.3" x2="268.37" y2="435.6"/>
<line x1="268.37" y1="237.9" x2="268.37" y2="243.6"/>
<line x1="275" y1="441.3" x2="275" y2="438.3"/>
<line x1="275" y1="237.9" x2="275" y2="240.9"/>
<line x1="281.63" y1="441.3" x2="281.63" y2="438.3"/>
<line x1="281.63" y1="237.9" x2="281.63" y2="240.9"/>
<line x1="288.27" y1="441.3" x2="288.27" y2="438.3"/>
<line x1="288.27" y1="237.9" x2="288.27" y2="240.9"/>
<line x1="294.9" y1="441.3" x2="294.9" y2="435.6"/>
<line x1="294.9" y1="237.9" x2="294.9" y2="243.6"/>
<line x1="29.6" y1="439.46" x2="33.6" y2="439.46"/>
<line x1="294.9" y1="439.46" x2="290.9" y2="439.46"/>
<line x1="29.6" y1="432.14" x2="33.6" y2="432.14"/>
<line x1="294.9" y1="432.14" x2="290.9" y2="432.14"/>
<line x1="29.6" y1="424.82" x2="33.6" y2="424.82"/>
<line x1="294.9" y1="424.82" x2="290.9" y2="424.82"/>
<line x1="29.6" y1="417.5" x2="37.6" y2="417.5"/>
<line x1="294.9" y1="417.5" x2="286.9" y2="417.5"/>
<line x1="29.6" y1="410.18" x2="33.6" y2="410.18"/>
<line x1="294.9" y1="410.18" x2="290.9" y2="410.18"/>
<line x1="29.6" y1="402.86" x2="33.6" y2="402.86"/>
<line x1="294.9" y1="402.86" x2="290.9" y2="402.86"/>
<line x1="29.6" y1="395.54" x2="33.6" y2="395.54"/>
<line x1="294.9" y1="395.54" x2="290.9" y2="395.54"/>
<line x1="29.6" y1="388.22" x2="37.6" y2="388.22"/>
<line x1="294.9" y1="388.22" x2="286.9" y2="388.22"/>
<line x1="29.6" y1="380.9" x2="33.6" y2="380.9"/>
<line x1="294.9" y1="380.9" x2="290.9" y2="380.9"/>
<line x1="29.6" y1="373.58" x2="33.6" y2="373.58"/>
<line x1="294.9" y1="373.58" x2="290.9" y2="373.58"/>
<line x1="29.6" y1="366.26" x2="33.6" y2="366.26"/>
<line x1="294.9" y1="366.26" x2="290.9" y2="366.26"/>
<line x1="29.6" y1="358.94" x2="37.6" y2="358.94"/>
<line x1="294.9" y1="358.94" x2="286.9" y2="358.94"/>
<line x1="29.6" y1="351.62" x2="33.6" y2="351.62"/>
<line x1="294.9" y1="351.62" x2="290.9" y2="351.62"/>
<line x1="29.6" y1="344.3" x2="33.6" y2="344.3"/>
<line x1="294.9" y1="344.3" x2="290.9" y2="344.3"/>
<line x1="29.6" y1="336.98" x2="33.6" y2="336.98"/>
<line x1="294.9" y1="336.98" x2="290.9" y2="336.98"/>
<line x1="29.6" y1="329.66" x2="37.6" y2="329.66"/>
<line x1="294.9" y1="329.66" x2="286.9" y2="329.66"/>
<line x1="29.6" y1="322.34" x2="33.6" y2="322.34"/>
<line x1="294.9" y1="322.34" x2="290.9" y2="322.34"/>
<line x1="29.6" y1="315.02" x2="33.6" y2="315.02"/>
<line x1="294.9" y1="315.02" x2="290.9" y2="315.02"/>
<line x1="29.6" y1="307.7" x2="33.6" y2="307.7"/>
<line x1="294.9" y1="307.7" x2="290.9" y2="307.7"/>
<line x1="29.6" y1="300.38" x2="37.6" y2="300.38"/>
<line x1="294.9" y1="300.38" x2="286.9" y2="300.38"/>
<line x1="29.6" y1="293.06" x2="33.6" y2="293.06"/>
<line x1="294.9" y1="293.06" x2="290.9" y2="293.06"/>
<line x1="29.6" y1="285.74" x2="33.6" y2="285.74"/>
<line x1="294.9" y1="285.74" x2="290.9" y2="285.74"/>
<line x1="29.6" y1="278.42" x2="33.6" y2="278.42"/>
<line x1="294.9" y1="278.42" x2="290.9" y2="278.42"/>
<line x1="29.6" y1="271.1" x2="37.6" y2="271.1"/>
<line x1="294.9" y1="271.1" x2="286.9" y2="271.1"/>
<line x1="29.6" y1="263.78" x2="33.6" y2="263.78"/>
<line x1="294.9" y1="263.78" x2="290.9" y2="263.78"/>
<line x1="29.6" y1="256.46" x2="33.6" y2="256.46"/>
<line x1="294.9" y1="256.46" x2="290.9" y2="256.46"/>
<line x1="29.6" y1="249.14" x2="33.6" y2="249.14"/>
<line x1="294.9" y1="249.14" x2="290.9" y2="249.14"/>
<line x1="29.6" y1="241.82" x2="37.6" y2="241.82"/>
<line x1="294.9" y1="241.82" x2="286.9" y2="241.82"/>
<line x1="29.6" y1="402.86" x2="294.9" y2="402.86" stroke-dasharray="3.3 2.1"/>
<path d="M29.6 407.25H34.91V394.08H40.21V392.61H45.52V379.44H50.82V331.12H56.13V326.73H61.44V382.36H66.74V395.54H72.05V399.93H77.35V382.36H82.66V380.9H87.97V388.22H93.27V408.72H98.58V410.18H103.88V385.29H109.19V367.72H114.5V265.24H119.8V356.01H125.11V399.93H130.41V423.36H135.72V410.18H141.03V407.25H146.33V402.86H151.64V388.22H156.94V394.08H162.25V407.25H167.56V394.08H172.86V392.61H178.17V379.44H183.47V331.12H188.78V326.73H194.09V382.36H199.39V395.54H204.7V399.93H210V382.36H215.31V380.9H220.62V388.22H225.92V408.72H231.23V410.18H236.53V385.29H241.84V367.72H247.15V265.24H252.45V356.01H257.76V399.93H263.06V423.36H268.37V410.18H273.68V407.25H278.98V402.86H284.29V388.22H289.59V394.08H294.9"/>
<path d="M32.25 397.22V417.29M31 397.22h2.5M31 417.29h2.5M37.56 383.12V405.03M36.31 383.12h2.5M36.31 405.03h2.5M42.86 381.56V403.66M41.61 381.56h2.5M41.61 403.66h2.5M48.17 367.54V391.33M46.92 367.54h2.5M46.92 391.33h2.5M53.48 316.56V345.69M52.23 316.56h2.5M52.23 345.69h2.5M58.78 311.95V341.52M57.53 311.95h2.5M57.53 341.52h2.5M64.09 370.65V394.08M62.84 370.65h2.5M62.84 394.08h2.5M69.39 384.68V406.4M68.14 384.68h2.5M68.14 406.4h2.5M74.7 389.37V410.49M73.45 389.37h2.5M73.45 410.49h2.5M80.01 370.65V394.08M78.76 370.65h2.5M78.76 394.08h2.5M85.31 369.1V392.7M84.06 369.1h2.5M84.06 392.7h2.5M90.62 376.88V399.56M89.37 376.88h2.5M89.37 399.56h2.5M95.92 398.79V418.65M94.67 398.79h2.5M94.67 418.65h2.5M101.23 400.36V420M99.98 400.36h2.5M99.98 420h2.5M106.54 373.76V396.82M105.29 373.76h2.5M105.29 396.82h2.5M111.84 355.13V380.32M110.59 355.13h2.5M110.59 380.32h2.5M117.15 247.68V282.81M115.9 247.68h2.5M115.9 282.81h2.5M122.45 342.75V369.27M121.2 342.75h2.5M121.2 369.27h2.5M127.76 389.37V410.49M126.51 389.37h2.5M126.51 410.49h2.5M133.07 414.57V432.14M131.82 414.57h2.5M131.82 432.14h2.5M138.37 400.36V420M137.12 400.36h2.5M137.12 420h2.5M143.68 397.22V417.29M142.43 397.22h2.5M142.43 417.29h2.5M148.98 392.51V413.21M147.73 392.51h2.5M147.73 413.21h2.5M154.29 376.88V399.56M153.04 376.88h2.5M153.04 399.56h2.5M159.6 383.12V405.03M158.35 383.12h2.5M158.35 405.03h2.5M164.9 397.22V417.29M163.65 397.22h2.5M163.65 417.29h2.5M170.21 383.12V405.03M168.96 383.12h2.5M168.96 405.03h2.5M175.51 381.56V403.66M174.26 381.56h2.5M174.26 403.66h2.5M180.82 367.54V391.33M179.57 367.54h2.5M179.57 391.33h2.5M186.13 316.56V345.69M184.88 316.56h2.5M184.88 345.69h2.5M191.43 311.95V341.52M190.18 311.95h2.5M190.18 341.52h2.5M196.74 370.65V394.08M195.49 370.65h2.5M195.49 394.08h2.5M202.04 384.68V406.4M200.79 384.68h2.5M200.79 406.4h2.5M207.35 389.37V410.49M206.1 389.37h2.5M206.1 410.49h2.5M212.66 370.65V394.08M211.41 370.65h2.5M211.41 394.08h2.5M217.96 369.1V392.7M216.71 369.1h2.5M216.71 392.7h2.5M223.27 376.88V399.56M222.02 376.88h2.5M222.02 399.56h2.5M228.57 398.79V418.65M227.32 398.79h2.5M227.32 418.65h2.5M233.88 400.36V420M232.63 400.36h2.5M232.63 420h2.5M239.19 373.76V396.82M237.94 373.76h2.5M237.94 396.82h2.5M244.49 355.13V380.32M243.24 355.13h2.5M243.24 380.32h2.5M249.8 247.68V282.81M248.55 247.68h2.5M248.55 282.81h2.5M255.1 342.75V369.27M253.85 342.75h2.5M253.85 369.27h2.5M260.41 389.37V410.49M259.16 389.37h2.5M259.16 410.49h2.5M265.72 414.57V432.14M264.47 414.57h2.5M264.47 432.14h2.5M271.02 400.36V420M269.77 400.36h2.5M269.77 420h2.5M276.33 397.22V417.29M275.08 397.22h2.5M275.08 417.29h2.5M281.63 392.51V413.21M280.38 392.51h2.5M280.38 413.21h2.5M286.94 376.88V399.56M285.69 376.88h2.5M285.69 399.56h2.5M292.25 383.12V405.03M291 383.12h2.5M291 405.03h2.5"/>
</g>
<g class="txt">
<text x="29.6" y="451.9" text-anchor="middle" textLength="5.18" lengthAdjust="spacingAndGlyphs">0</text>
<text x="56.13" y="451.9" text-anchor="middle" textLength="12.94" lengthAdjust="spacingAndGlyphs">0.2</text>
<text x="82.66" y="451.9" text-anchor="middle" textLength="12.94" lengthAdjust="spacingAndGlyphs">0.4</text>
<text x="109.19" y="451.9" text-anchor="middle" textLength="12.94" lengthAdjust="spacingAndGlyphs">0.6</text>
<text x="135.72" y="451.9" text-anchor="middle" textLength="12.94" lengthAdjust="spacingAndGlyphs">0.8</text>
<text x="162.25" y="451.9" text-anchor="middle" textLength="5.18" lengthAdjust="spacingAndGlyphs">1</text>
<text x="188.78" y="451.9" text-anchor="middle" textLength="12.94" lengthAdjust="spacingAndGlyphs">1.2</text>
<text x="215.31" y="451.9" text-anchor="middle" textLength="12.94" lengthAdjust="spacingAndGlyphs">1.4</text>
<text x="241.84" y="451.9" text-anchor="middle" textLength="12.94" lengthAdjust="spacingAndGlyphs">1.6</text>
<text x="268.37" y="451.9" text-anchor="middle" textLength="12.94" lengthAdjust="spacingAndGlyphs">1.8</text>
<text x="294.9" y="451.9" text-anchor="middle" textLength="5.18" lengthAdjust="spacingAndGlyphs">2</text>
<text x="27.9" y="421.25" class="yl" text-anchor="end" textLength="10.09" lengthAdjust="spacingAndGlyphs">40</text>
<text x="27.9" y="391.97" class="yl" text-anchor="end" textLength="10.09" lengthAdjust="spacingAndGlyphs">60</text>
<text x="27.9" y="362.69" class="yl" text-anchor="end" textLength="10.09" lengthAdjust="spacingAndGlyphs">80</text>
<text x="27.9" y="333.41" class="yl" text-anchor="end" textLength="15.13" lengthAdjust="spacingAndGlyphs">100</text>
<text x="27.9" y="304.13" class="yl" text-anchor="end" textLength="15.13" lengthAdjust="spacingAndGlyphs">120</text>
<text x="27.9" y="274.85" class="yl" text-anchor="end" textLength="15.13" lengthAdjust="spacingAndGlyphs">140</text>
<text x="27.9" y="245.57" class="yl" text-anchor="end" textLength="15.13" lengthAdjust="spacingAndGlyphs">160</text>
<text class="ttl" x="39.7" y="255.8" textLength="66.1" lengthAdjust="spacingAndGlyphs">[0.3GeV,1GeV)</text>
<text class="ax" x="162.35" y="464.7" text-anchor="middle" textLength="54" lengthAdjust="spacingAndGlyphs">Pulse Phase</text>
<text class="ax" transform="translate(8.8 338.6) rotate(-90)" text-anchor="middle" textLength="47.4" lengthAdjust="spacingAndGlyphs">Counts/bin</text>
</g>
<g class="panel" stroke="#111" stroke-width="0.6" fill="none">
<rect x="331.2" y="237.9" width="265.2" height="203.4"/>
<line x1="331.2" y1="441.3" x2="331.2" y2="435.6"/>
<line x1="331.2" y1="237.9" x2="331.2" y2="243.6"/>
<line x1="337.83" y1="441.3" x2="337.83" y2="438.3"/>
<line x1="337.83" y1="237.9" x2="337.83" y2="240.9"/>
<line x1="344.46" y1="441.3" x2="344.46" y2="438.3"/>
<line x1="344.46" y1="237.9" x2="344.46" y2="240.9"/>
<line x1="351.09" y1="441.3" x2="351.09" y2="438.3"/>
<line x1="351.09" y1="237.9" x2="351.09" y2="240.9"/>
<line x1="357.72" y1="441.3" x2="357.72" y2="435.6"/>
<line x1="357.72" y1="237.9" x2="357.72" y2="243.6"/>
<line x1="364.35" y1="441.3" x2="364.35" y2="438.3"/>
<line x1="364.35" y1="237.9" x2="364.35" y2="240.9"/>
<line x1="370.98" y1="441.3" x2="370.98" y2="438.3"/>
<line x1="370.98" y1="237.9" x2="370.98" y2="240.9"/>
<line x1="377.61" y1="441.3" x2="377.61" y2="438.3"/>
<line x1="377.61" y1="237.9" x2="377.61" y2="240.9"/>
<line x1="384.24" y1="441.3" x2="384.24" y2="435.6"/>
<line x1="384.24" y1="237.9" x2="384.24" y2="243.6"/>
<line x1="390.87" y1="441.3" x2="390.87" y2="438.3"/>
<line x1="390.87" y1="237.9" x2="390.87" y2="240.9"/>
<line x1="397.5" y1="441.3" x2="397.5" y2="438.3"/>
<line x1="397.5" y1="237.9" x2="397.5" y2="240.9"/>
<line x1="404.13" y1="441.3" x2="404.13" y2="438.3"/>
<line x1="404.13" y1="237.9" x2="404.13" y2="240.9"/>
<line x1="410.76" y1="441.3" x2="410.76" y2="435.6"/>
<line x1="410.76" y1="237.9" x2="410.76" y2="243.6"/>
<line x1="417.39" y1="441.3" x2="417.39" y2="438.3"/>
<line x1="417.39" y1="237.9" x2="417.39" y2="240.9"/>
<line x1="424.02" y1="441.3" x2="424.02" y2="438.3"/>
<line x1="424.02" y1="237.9" x2="424.02" y2="240.9"/>
<line x1="430.65" y1="441.3" x2="430.65" y2="438.3"/>
<line x1="430.65" y1="237.9" x2="430.65" y2="240.9"/>
<line x1="437.28" y1="441.3" x2="437.28" y2="435.6"/>
<line x1="437.28" y1="237.9" x2="437.28" y2="243.6"/>
<line x1="443.91" y1="441.3" x2="443.91" y2="438.3"/>
<line x1="443.91" y1="237.9" x2="443.91" y2="240.9"/>
<line x1="450.54" y1="441.3" x2="450.54" y2="438.3"/>
<line x1="450.54" y1="237.9" x2="450.54" y2="240.9"/>
<line x1="457.17" y1="441.3" x2="457.17" y2="438.3"/>
<line x1="457.17" y1="237.9" x2="457.17" y2="240.9"/>
<line x1="463.8" y1="441.3" x2="463.8" y2="435.6"/>
<line x1="463.8" y1="237.9" x2="463.8" y2="243.6"/>
<line x1="470.43" y1="441.3" x2="470.43" y2="438.3"/>
<line x1="470.43" y1="237.9" x2="470.43" y2="240.9"/>
<line x1="477.06" y1="441.3" x2="477.06" y2="438.3"/>
<line x1="477.06" y1="237.9" x2="477.06" y2="240.9"/>
<line x1="483.69" y1="441.3" x2="483.69" y2="438.3"/>
<line x1="483.69" y1="237.9" x2="483.69" y2="240.9"/>
<line x1="490.32" y1="441.3" x2="490.32" y2="435.6"/>
<line x1="490.32" y1="237.9" x2="490.32" y2="243.6"/>
<line x1="496.95" y1="441.3" x2="496.95" y2="438.3"/>
<line x1="496.95" y1="237.9" x2="496.95" y2="240.9"/>
<line x1="503.58" y1="441.3" x2="503.58" y2="438.3"/>
<line x1="503.58" y1="237.9" x2="503.58" y2="240.9"/>
<line x1="510.21" y1="441.3" x2="510.21" y2="438.3"/>
<line x1="510.21" y1="237.9" x2="510.21" y2="240.9"/>
<line x1="516.84" y1="441.3" x2="516.84" y2="435.6"/>
<line x1="516.84" y1="237.9" x2="516.84" y2="243.6"/>
<line x1="523.47" y1="441.3" x2="523.47" y2="438.3"/>
<line x1="523.47" y1="237.9" x2="523.47" y2="240.9"/>
<line x1="530.1" y1="441.3" x2="530.1" y2="438.3"/>
<line x1="530.1" y1="237.9" x2="530.1" y2="240.9"/>
<line x1="536.73" y1="441.3" x2="536.73" y2="438.3"/>
<line x1="536.73" y1="237.9" x2="536.73" y2="240.9"/>
<line x1="543.36" y1="441.3" x2="543.36" y2="435.6"/>
<line x1="543.36" y1="237.9" x2="543.36" y2="243.6"/>
<line x1="549.99" y1="441.3" x2="549.99" y2="438.3"/>
<line x1="549.99" y1="237.9" x2="549.99" y2="240.9"/>
<line x1="556.62" y1="441.3" x2="556.62" y2="438.3"/>
<line x1="556.62" y1="237.9" x2="556.62" y2="240.9"/>
<line x1="563.25" y1="441.3" x2="563.25" y2="438.3"/>
<line x1="563.25" y1="237.9" x2="563.25" y2="240.9"/>
<line x1="569.88" y1="441.3" x2="569.88" y2="435.6"/>
<line x1="569.88" y1="237.9" x2="569.88" y2="243.6"/>
<line x1="576.51" y1="441.3" x2="576.51" y2="438.3"/>
<line x1="576.51" y1="237.9" x2="576.51" y2="240.9"/>
<line x1="583.14" y1="441.3" x2="583.14" y2="438.3"/>
<line x1="583.14" y1="237.9" x2="583.14" y2="240.9"/>
<line x1="589.77" y1="441.3" x2="589.77" y2="438.3"/>
<line x1="589.77" y1="237.9" x2="589.77" y2="240.9"/>
<line x1="596.4" y1="441.3" x2="596.4" y2="435.6"/>
<line x1="596.4" y1="237.9" x2="596.4" y2="243.6"/>
<line x1="331.2" y1="441.1" x2="339.2" y2="441.1"/>
<line x1="596.4" y1="441.1" x2="588.4" y2="441.1"/>
<line x1="331.2" y1="432.18" x2="335.2" y2="432.18"/>
<line x1="596.4" y1="432.18" x2="592.4" y2="432.18"/>
<line x1="331.2" y1="423.25" x2="335.2" y2="423.25"/>
<line x1="596.4" y1="423.25" x2="592.4" y2="423.25"/>
<line x1="331.2" y1="414.33" x2="335.2" y2="414.33"/>
<line x1="596.4" y1="414.33" x2="592.4" y2="414.33"/>
<line x1="331.2" y1="405.4" x2="339.2" y2="405.4"/>
<line x1="596.4" y1="405.4" x2="588.4" y2="405.4"/>
<line x1="331.2" y1="396.48" x2="335.2" y2="396.48"/>
<line x1="596.4" y1="396.48" x2="592.4" y2="396.48"/>
<line x1="331.2" y1="387.55" x2="335.2" y2="387.55"/>
<line x1="596.4" y1="387.55" x2="592.4" y2="387.55"/>
<line x1="331.2" y1="378.62" x2="335.2" y2="378.62"/>
<line x1="596.4" y1="378.62" x2="592.4" y2="378.62"/>
<line x1="331.2" y1="369.7" x2="339.2" y2="369.7"/>
<line x1="596.4" y1="369.7" x2="588.4" y2="369.7"/>
<line x1="331.2" y1="360.78" x2="335.2" y2="360.78"/>
<line x1="596.4" y1="360.78" x2="592.4" y2="360.78"/>
<line x1="331.2" y1="351.85" x2="335.2" y2="351.85"/>
<line x1="596.4" y1="351.85" x2="592.4" y2="351.85"/>
<line x1="331.2" y1="342.93" x2="335.2" y2="342.93"/>
<line x1="596.4" y1="342.93" x2="592.4" y2="342.93"/>
<line x1="331.2" y1="334" x2="339.2" y2="334"/>
<line x1="596.4" y1="334" x2="588.4" y2="334"/>
<line x1="331.2" y1="325.08" x2="335.2" y2="325.08"/>
<line x1="596.4" y1="325.08" x2="592.4" y2="325.08"/>
<line x1="331.2" y1="316.15" x2="335.2" y2="316.15"/>
<line x1="596.4" y1="316.15" x2="592.4" y2="316.15"/>
<line x1="331.2" y1="307.23" x2="335.2" y2="307.23"/>
<line x1="596.4" y1="307.23" x2="592.4" y2="307.23"/>
<line x1="331.2" y1="298.3" x2="339.2" y2="298.3"/>
<line x1="596.4" y1="298.3" x2="588.4" y2="298.3"/>
<line x1="331.2" y1="289.38" x2="335.2" y2="289.38"/>
<line x1="596.4" y1="289.38" x2="592.4" y2="289.38"/>
<line x1="331.2" y1="280.45" x2="335.2" y2="280.45"/>
<line x1="596.4" y1="280.45" x2="592.4" y2="280.45"/>
<line x1="331.2" y1="271.52" x2="335.2" y2="271.52"/>
<line x1="596.4" y1="271.52" x2="592.4" y2="271.52"/>
<line x1="331.2" y1="262.6" x2="339.2" y2="262.6"/>
<line x1="596.4" y1="262.6" x2="588.4" y2="262.6"/>
<line x1="331.2" y1="253.68" x2="335.2" y2="253.68"/>
<line x1="596.4" y1="253.68" x2="592.4" y2="253.68"/>
<line x1="331.2" y1="244.75" x2="335.2" y2="244.75"/>
<line x1="596.4" y1="244.75" x2="592.4" y2="244.75"/>
<line x1="331.2" y1="435.66" x2="596.4" y2="435.66" stroke-dasharray="3.3 2.1"/>
<path d="M331.2 441.1M336.5 441.1V441.1M341.81 441.1V441.1M347.11 441.1V441.1M352.42 441.1V423.25H357.72V369.7H363.02V441.1M368.33 441.1V441.1M373.63 441.1V441.1M378.94 441.1V423.25H384.24V441.1M389.54 441.1V441.1M394.85 441.1V441.1M400.15 441.1V423.25H405.46V441.1M410.76 441.1V334H416.06V298.3H421.37V405.4H426.67V441.1M431.98 441.1V441.1M437.28 441.1V423.25H442.58V441.1M447.89 441.1V441.1M453.19 441.1V423.25H458.5V441.1M463.8 441.1V441.1M469.1 441.1V441.1M474.41 441.1V441.1M479.71 441.1V441.1M485.02 441.1V423.25H490.32V369.7H495.62V441.1M500.93 441.1V441.1M506.23 441.1V441.1M511.54 441.1V423.25H516.84V441.1M522.14 441.1V441.1M527.45 441.1V441.1M532.75 441.1V423.25H538.06V441.1M543.36 441.1V334H548.66V298.3H553.97V405.4H559.27V441.1M564.58 441.1V441.1M569.88 441.1V423.25H575.18V441.1M580.49 441.1V441.1M585.79 441.1V423.25H591.1V441.1M596.4 441.1"/>
<path d="M355.07 405.4V441.1M353.82 405.4h2.5M360.37 334V405.4M359.12 334h2.5M359.12 405.4h2.5M381.59 405.4V441.1M380.34 405.4h2.5M402.8 405.4V441.1M401.55 405.4h2.5M413.41 290.28V377.72M412.16 290.28h2.5M412.16 377.72h2.5M418.72 247.81V348.79M417.47 247.81h2.5M417.47 348.79h2.5M424.02 380.16V430.64M422.77 380.16h2.5M422.77 430.64h2.5M439.93 405.4V441.1M438.68 405.4h2.5M455.84 405.4V441.1M454.59 405.4h2.5M487.67 405.4V441.1M486.42 405.4h2.5M492.97 334V405.4M491.72 334h2.5M491.72 405.4h2.5M514.19 405.4V441.1M512.94 405.4h2.5M535.4 405.4V441.1M534.15 405.4h2.5M546.01 290.28V377.72M544.76 290.28h2.5M544.76 377.72h2.5M551.32 247.81V348.79M550.07 247.81h2.5M550.07 348.79h2.5M556.62 380.16V430.64M555.37 380.16h2.5M555.37 430.64h2.5M572.53 405.4V441.1M571.28 405.4h2.5M588.44 405.4V441.1M587.19 405.4h2.5"/>
<line x1="463.8" y1="441.3" x2="463.8" y2="435.66"/>
</g>
<g class="txt">
<text x="331.2" y="451.9" text-anchor="middle" textLength="5.18" lengthAdjust="spacingAndGlyphs">0</text>
<text x="357.72" y="451.9" text-anchor="middle" textLength="12.94" lengthAdjust="spacingAndGlyphs">0.2</text>
<text x="384.24" y="451.9" text-anchor="middle" textLength="12.94" lengthAdjust="spacingAndGlyphs">0.4</text>
<text x="410.76" y="451.9" text-anchor="middle" textLength="12.94" lengthAdjust="spacingAndGlyphs">0.6</text>
<text x="437.28" y="451.9" text-anchor="middle" textLength="12.94" lengthAdjust="spacingAndGlyphs">0.8</text>
<text x="463.8" y="451.9" text-anchor="middle" textLength="5.18" lengthAdjust="spacingAndGlyphs">1</text>
<text x="490.32" y="451.9" text-anchor="middle" textLength="12.94" lengthAdjust="spacingAndGlyphs">1.2</text>
<text x="516.84" y="451.9" text-anchor="middle" textLength="12.94" lengthAdjust="spacingAndGlyphs">1.4</text>
<text x="543.36" y="451.9" text-anchor="middle" textLength="12.94" lengthAdjust="spacingAndGlyphs">1.6</text>
<text x="569.88" y="451.9" text-anchor="middle" textLength="12.94" lengthAdjust="spacingAndGlyphs">1.8</text>
<text x="596.4" y="451.9" text-anchor="middle" textLength="5.18" lengthAdjust="spacingAndGlyphs">2</text>
<text x="328.5" y="444.4" class="yl" text-anchor="end" textLength="5.04" lengthAdjust="spacingAndGlyphs">0</text>
<text x="328.5" y="408.7" class="yl" text-anchor="end" textLength="5.04" lengthAdjust="spacingAndGlyphs">2</text>
<text x="328.5" y="373" class="yl" text-anchor="end" textLength="5.04" lengthAdjust="spacingAndGlyphs">4</text>
<text x="328.5" y="337.3" class="yl" text-anchor="end" textLength="5.04" lengthAdjust="spacingAndGlyphs">6</text>
<text x="328.5" y="301.6" class="yl" text-anchor="end" textLength="5.04" lengthAdjust="spacingAndGlyphs">8</text>
<text x="328.5" y="265.9" class="yl" text-anchor="end" textLength="10.09" lengthAdjust="spacingAndGlyphs">10</text>
<text class="ttl" x="355.3" y="255.3" textLength="36.4" lengthAdjust="spacingAndGlyphs">&gt;=3GeV</text>
<text class="ax" x="463.9" y="464.7" text-anchor="middle" textLength="54" lengthAdjust="spacingAndGlyphs">Pulse Phase</text>
<text class="ax" transform="translate(312.8 338.6) rotate(-90)" text-anchor="middle" textLength="47.4" lengthAdjust="spacingAndGlyphs">Counts/bin</text>
</g>
</svg>
</body></html>
